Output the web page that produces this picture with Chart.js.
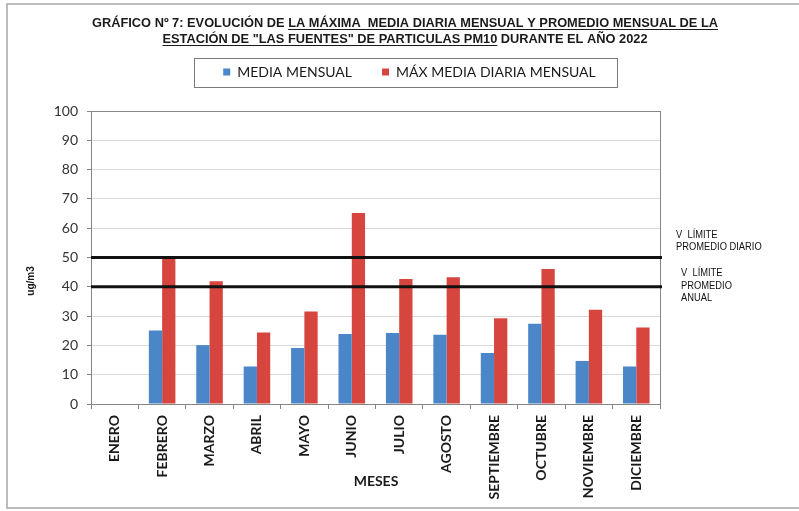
<!DOCTYPE html>
<html lang="es">
<head>
<meta charset="utf-8">
<title>PM10 Las Fuentes 2022</title>
<script src="https://cdn.jsdelivr.net/npm/chart.js@4.4.1/dist/chart.umd.min.js"></script>
<style>
  html, body { margin: 0; padding: 0; background: #fff; }
  canvas { display: block; }
</style>
</head>
<body>
<canvas id="grafico" width="799" height="511"></canvas>
<script>
// meses del año 2022
const meses = ['ENERO', 'FEBRERO', 'MARZO', 'ABRIL', 'MAYO', 'JUNIO', 'JULIO',
  'AGOSTO', 'SEPTIEMBRE', 'OCTUBRE', 'NOVIEMBRE', 'DICIEMBRE'];

// ug/m3, enero sin datos
const mediaMensual = [null, 25.1, 20.1, 12.8, 19.1, 23.9, 24.2, 23.6, 17.4, 27.4, 14.7, 12.8];
const maxMediaDiaria = [null, 49.8, 41.9, 24.4, 31.6, 65.2, 42.7, 43.3, 29.3, 46.1, 32.2, 26.1];

// valores límite: promedio diario y promedio anual
const limites = [50, 40];

// eje Y
const yMin = 0;
const yMax = 100;
const yPaso = 10;

const tituloLineas = [
  [['GRÁFICO Nº 7: EVOLUCIÓN DE ', false], ['LA MÁXIMA  MEDIA DIARIA MENSUAL Y PROMEDIO MENSUAL DE LA', true]],
  [['ESTACIÓN DE "LAS FUENTES" DE PARTICULAS PM10', true], [' DURANTE EL AÑO 2022', false]]
];

const AZUL = '#4a86c8';
const ROJO = '#d6463f';
const GRIS_EJE = '#868686';
const fuenteNarrow = '"Liberation Sans Narrow", "Liberation Sans", Arial, sans-serif';

// texto comprimido horizontalmente (estilo Arial Narrow)
function textoEstrecho(ctx, txt, x, y, escala, align) {
  ctx.save();
  ctx.translate(x, y);
  ctx.scale(escala, 1);
  ctx.textAlign = align || 'left';
  ctx.fillText(txt, 0, 0);
  ctx.restore();
}

const decoracion = {
  id: 'decoracion',
  afterDraw(chart) {
    const ctx = chart.ctx;
    const area = chart.chartArea;
    const y = chart.scales.y;

    // marco exterior
    ctx.save();
    ctx.strokeStyle = '#a6a6a6';
    ctx.lineWidth = 1.5;
    ctx.strokeRect(7, 4, 800, 504);

    // borde del área de trazado
    ctx.strokeStyle = GRIS_EJE;
    ctx.lineWidth = 1;
    ctx.strokeRect(area.left + 0.5, area.top + 0.5, area.width, area.height);

    // líneas de valor límite
    ctx.strokeStyle = '#111';
    ctx.lineWidth = 3;
    limites.forEach(v => {
      const py = y.getPixelForValue(v);
      ctx.beginPath();
      ctx.moveTo(area.left, py);
      ctx.lineTo(area.right + 2, py);
      ctx.stroke();
    });

    // rótulos de los límites
    ctx.fillStyle = '#111';
    ctx.font = '11px ' + fuenteNarrow;
    ctx.textBaseline = 'middle';
    const pDiario = y.getPixelForValue(limites[0]);
    textoEstrecho(ctx, 'V  LÍMITE', area.right + 16, pDiario - 23, 0.85);
    textoEstrecho(ctx, 'PROMEDIO DIARIO', area.right + 16, pDiario - 11, 0.85);
    const pAnual = y.getPixelForValue(limites[1]);
    textoEstrecho(ctx, 'V  LÍMITE', area.right + 21, pAnual - 14, 0.85);
    textoEstrecho(ctx, 'PROMEDIO', area.right + 21, pAnual - 1, 0.85);
    textoEstrecho(ctx, 'ANUAL', area.right + 21, pAnual + 11, 0.85);

    // título con subrayados
    ctx.font = 'bold 13px ' + fuenteNarrow;
    ctx.textBaseline = 'alphabetic';
    ctx.fillStyle = '#1a1a1a';
    ctx.strokeStyle = '#1a1a1a';
    ctx.lineWidth = 1.2;
    const anchos = tituloLineas.map(l => l.reduce((s, seg) => s + ctx.measureText(seg[0]).width, 0));
    const esc = 626 / anchos[0];
    const cx = 405;
    const bases = [27, 43];
    tituloLineas.forEach((linea, i) => {
      let x = cx - anchos[i] * esc / 2;
      linea.forEach(([txt, sub]) => {
        const w = ctx.measureText(txt).width * esc;
        textoEstrecho(ctx, txt, x, bases[i], esc);
        if (sub) {
          const ini = txt.startsWith(' ') ? x + ctx.measureText(' ').width * esc : x;
          ctx.beginPath();
          ctx.moveTo(ini, bases[i] + 2.5);
          ctx.lineTo(x + w, bases[i] + 2.5);
          ctx.stroke();
        }
        x += w;
      });
    });

    // recuadro de la leyenda
    const cajas = chart.legend.legendHitBoxes;
    if (cajas.length) {
      const izq = Math.min(...cajas.map(c => c.left));
      const der = Math.max(...cajas.map(c => c.left + c.width));
      const cy = cajas[0].top + cajas[0].height / 2;
      ctx.strokeStyle = '#7a7a7a';
      ctx.lineWidth = 1;
      ctx.strokeRect(Math.round(izq - 29) + 0.5, Math.round(cy - 14) + 0.5, Math.round(der - izq + 50), 29);
    }

    // títulos de los ejes
    ctx.fillStyle = '#1a1a1a';
    ctx.font = 'bold 10px "Liberation Sans", Arial, sans-serif';
    ctx.save();
    ctx.translate(31, 281);
    ctx.rotate(-Math.PI / 2);
    ctx.textAlign = 'center';
    ctx.textBaseline = 'middle';
    ctx.fillText('ug/m3', 0, 0);
    ctx.restore();

    ctx.font = 'bold 14px Lato, sans-serif';
    ctx.textAlign = 'center';
    ctx.textBaseline = 'middle';
    ctx.fillText('MESES', 376, 481);
    ctx.restore();
  }
};

// separa la leyenda del área de trazado
const margenLeyenda = {
  id: 'margenLeyenda',
  beforeInit(chart) {
    const fit = chart.legend.fit;
    chart.legend.fit = function () {
      fit.call(this);
      this.height = 76;
    };
  }
};

new Chart(document.getElementById('grafico'), {
  type: 'bar',
  data: {
    labels: meses,
    datasets: [
      {
        label: 'MEDIA MENSUAL',
        data: mediaMensual,
        backgroundColor: AZUL,
        barPercentage: 1,
        categoryPercentage: 0.56
      },
      {
        label: 'MÁX MEDIA DIARIA MENSUAL',
        data: maxMediaDiaria,
        backgroundColor: ROJO,
        barPercentage: 1,
        categoryPercentage: 0.56
      }
    ]
  },
  options: {
    responsive: false,
    animation: false,
    layout: { padding: { top: 35, left: 20, right: 0, bottom: 0 } },
    plugins: {
      legend: {
        position: 'top',
        labels: {
          boxWidth: 7,
          boxHeight: 7,
          padding: 30,
          color: '#1a1a1a',
          font: { family: 'Lato', size: 14 }
        }
      },
      tooltip: { enabled: false }
    },
    scales: {
      x: {
        grid: {
          display: true,
          drawOnChartArea: false,
          offset: true,
          tickLength: 5,
          color: GRIS_EJE
        },
        border: { color: GRIS_EJE },
        ticks: {
          minRotation: 90,
          maxRotation: 90,
          autoSkip: false,
          padding: 6,
          color: '#1a1a1a',
          font: { family: 'Lato', size: 14, weight: 'bold' }
        },
        afterFit(s) { s.height = 107; }
      },
      y: {
        min: yMin,
        max: yMax,
        grid: {
          color: '#d9d9d9',
          tickColor: GRIS_EJE,
          tickLength: 4
        },
        border: { color: GRIS_EJE },
        ticks: {
          stepSize: yPaso,
          padding: 9,
          color: '#333',
          font: { family: 'Lato', size: 14 }
        },
        afterFit(s) { s.width = 71; }
      },
      // reserva el margen derecho para los rótulos de límites
      derecha: {
        type: 'linear',
        position: 'right',
        min: 0,
        max: 1,
        grid: { display: false },
        border: { display: false },
        ticks: { display: false },
        afterFit(s) { s.width = 139; }
      }
    }
  },
  plugins: [decoracion, margenLeyenda]
});
</script>
</body>
</html>
